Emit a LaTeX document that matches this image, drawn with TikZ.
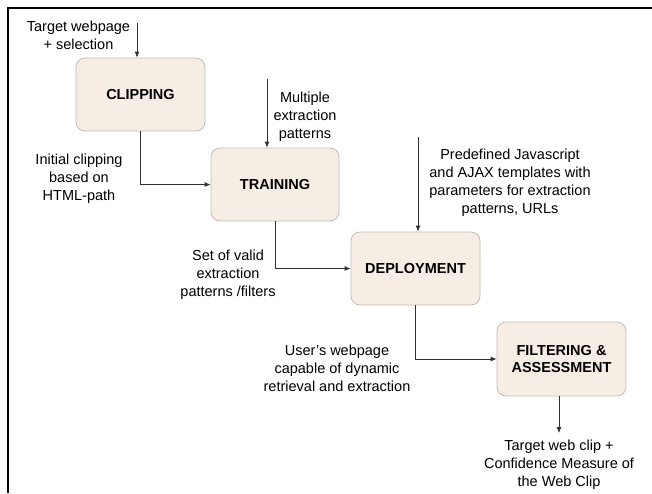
\documentclass[tikz,border=0pt]{standalone}
\usepackage{fontspec}
\setmainfont{Liberation Sans}
\usetikzlibrary{arrows.meta}
\definecolor{boxfill}{HTML}{F6EEE5}
\definecolor{boxline}{HTML}{C4BCB4}
\definecolor{wire}{HTML}{303030}
\begin{document}
\begin{tikzpicture}[x=1pt,y=-1pt,
  stage/.style={draw=boxline, fill=boxfill, rounded corners=9pt, line width=0.8pt,
    minimum width=129pt, minimum height=73pt, align=center, inner sep=2pt,
    font=\fontsize{14.5}{17.5}\selectfont\bfseries},
  note/.style={align=center, inner sep=0pt, font=\fontsize{14.5}{18}\selectfont},
  flow/.style={draw=wire, line width=0.8pt, -{Latex[length=6pt,width=5pt]}}]
\useasboundingbox (0,0) rectangle (652,493);
% frame on the top and left edges
\draw[line width=2pt, black] (8,493) -- (8,7.5) -- (652,7.5);

% process stages
\node[stage] (clip)   at (140.5,94.5) {CLIPPING};
\node[stage, minimum width=128pt] (train) at (275,184.5) {TRAINING};
\node[stage] (deploy) at (415.5,268.5) {DEPLOYMENT};
\node[stage, minimum height=74pt] (filter) at (561.5,359) {FILTERING \&\\ASSESSMENT};

% free ends of the input and output connectors
\coordinate (inClip)   at (137,23);
\coordinate (inTrain)  at (267,79);
\coordinate (inDeploy) at (418,137);
\coordinate (outEnd)   at (559,433);

% connectors
\draw[flow] (inClip) -- (inClip |- clip.north);
\draw[flow] (clip.south) |- (train.west);
\draw[flow] (inTrain) -- (inTrain |- train.north);
\draw[flow] (train.south) |- (deploy.west);
\draw[flow] (inDeploy) -- (inDeploy |- deploy.north);
\draw[flow] (deploy.south) |- (filter.west);
\draw[flow] (outEnd |- filter.south) -- (outEnd);

% labels
\node[note] (lTarget)  at (78.5,35.5) {Target webpage\\+ selection};
\node[note] (lInitial) at (79,179) {Initial clipping\\based on\\HTML-path};
\node[note] (lMulti)   at (305,117) {Multiple\\extraction\\patterns};
\node[note] (lSet)     at (228,275) {Set of valid\\extraction\\patterns /filters};
\node[note] (lPre)     at (510,183) {Predefined Javascript\\and AJAX templates with\\parameters for extraction\\patterns, URLs};
\node[note] (lUser)    at (337,368) {User’s webpage\\capable of dynamic\\retrieval and extraction};
\node[note] (lOut)     at (559,465) {Target web clip +\\Confidence Measure of\\the Web Clip};
\end{tikzpicture}
\end{document}
